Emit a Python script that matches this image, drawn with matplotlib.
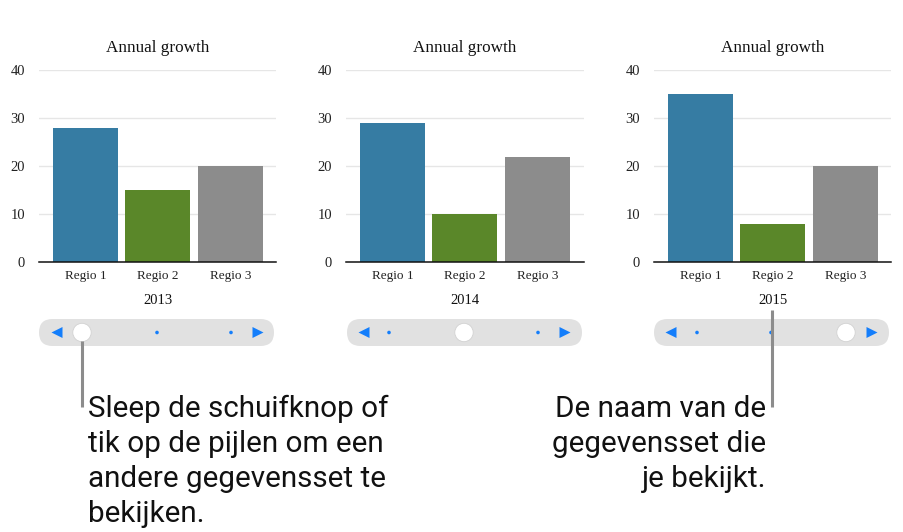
#! /usr/bin/env python3
# Three small bar charts with a slider below each one, plus two callouts.

import matplotlib
matplotlib.use("Agg")
import matplotlib.pyplot as plt
from matplotlib.patches import Circle, FancyBboxPatch, Polygon

W, H = 904, 532

regions = ["Regio 1", "Regio 2", "Regio 3"]
years = ["2013", "2014", "2015"]
values_2013 = [28, 15, 20]
values_2014 = [29, 10, 22]
values_2015 = [35, 8, 20]
all_values = [values_2013, values_2014, values_2015]
bar_colors = ["#367CA3", "#5A8729", "#8C8C8C"]
y_ticks = [0, 10, 20, 30, 40]

serif = "Liberation Serif"
sans = "Roboto"

# pixel layout: axis left, axis right, first bar centre
panels = [(39, 276, 85.5), (346, 584, 392.5), (654, 891, 700.5)]
sliders = [
    dict(x0=39, x1=274, left=57, right=258, knob=82, dots=[157, 231]),
    dict(x0=347, x1=582, left=364, right=565, knob=464, dots=[389, 538]),
    dict(x0=654, x1=889, left=671, right=872, knob=846, dots=[697, 771]),
]
step = 72.5

fig = plt.figure(figsize=(W / 100, H / 100), dpi=100)

# full figure overlay in pixel coordinates for the slider and callouts
overlay = fig.add_axes([0, 0, 1, 1], zorder=5)
overlay.set_xlim(0, W)
overlay.set_ylim(H, 0)
overlay.axis("off")

for (x0, x1, first), year, values in zip(panels, years, all_values):
    ax = fig.add_axes([x0 / W, 1 - 262 / H, (x1 - x0) / W, (262 - 70.5) / H])
    ax.bar(range(3), values, width=65 / step, color=bar_colors, zorder=2)
    ax.set_xlim((x0 - first) / step, (x1 - first) / step)
    ax.set_ylim(0, 40)
    ax.set_yticks(y_ticks)
    ax.set_xticks(range(3))
    ax.set_xticklabels(regions, family=serif, fontsize=9.5, color="#222222")
    ax.set_yticklabels([str(t) for t in y_ticks], family=serif, fontsize=10.5, color="#222222")
    ax.tick_params(length=0)
    ax.tick_params(axis="x", pad=6)
    ax.tick_params(axis="y", pad=10)
    ax.grid(axis="y", color="#E6E6E6", linewidth=1, zorder=0)
    ax.set_axisbelow(True)
    for side in ["top", "right", "left"]:
        ax.spines[side].set_visible(False)
    ax.spines["bottom"].set_linewidth(1.1)
    ax.spines["bottom"].set_color("#111111")
    ax.patch.set_alpha(0)
    centre = first + step
    overlay.text(centre, 48, "Annual growth", family=serif, fontsize=12.3, color="#111111",
                 ha="center", va="center")
    overlay.text(centre, 300, year, family=serif, fontsize=10.5, color="#111111",
                 ha="center", va="center")

for s in sliders:
    overlay.add_patch(FancyBboxPatch((s["x0"] + 13.5, 319 + 13.5), s["x1"] - s["x0"] - 27, 0,
                                     boxstyle="round,pad=13.5", fc="#E1E1E1", ec="none"))
    overlay.add_patch(Polygon([(s["left"] - 5.5, 332.5), (s["left"] + 5.5, 327), (s["left"] + 5.5, 338)],
                              fc="#147EFB", ec="none"))
    overlay.add_patch(Polygon([(s["right"] + 5.5, 332.5), (s["right"] - 5.5, 327), (s["right"] - 5.5, 338)],
                              fc="#147EFB", ec="none"))
    for d in s["dots"]:
        overlay.add_patch(Circle((d, 332.5), 1.8, fc="#147EFB", ec="none"))
    overlay.add_patch(Circle((s["knob"], 332.5), 9.2, fc="white", ec="#D2D2D2", lw=0.6, zorder=3))

overlay.plot([82, 82], [341, 407], color="#8C8C8C", lw=2.2, solid_capstyle="butt", zorder=4)
overlay.plot([772, 772], [310, 407], color="#8C8C8C", lw=2.2, solid_capstyle="butt", zorder=4)

left_lines = ["Sleep de schuifknop of", "tik op de pijlen om een", "andere gegevensset te", "bekijken."]
right_lines = ["De naam van de", "gegevensset die", "je bekijkt."]

for i, line in enumerate(left_lines):
    overlay.text(88.5, 417 + i * 35, line, family=sans, fontsize=21.3, color="#111111",
                 ha="left", va="baseline")
for i, line in enumerate(right_lines):
    overlay.text(766.5, 417 + i * 35, line, family=sans, fontsize=21.3, color="#111111",
                 ha="right", va="baseline")

fig.savefig("out.png", dpi=100)
